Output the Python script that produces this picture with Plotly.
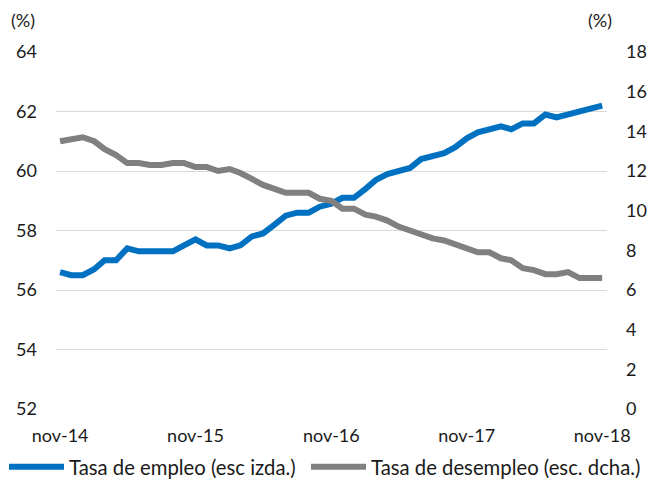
import plotly.graph_objects as go
import pandas as pd

# Monthly data, nov-2014 .. nov-2018
months = pd.date_range("2014-11-01", "2018-11-01", freq="MS")

tasa_empleo = [
    56.6, 56.5, 56.5, 56.7, 57.0, 57.0, 57.4, 57.3, 57.3, 57.3, 57.3, 57.5,
    57.7, 57.5, 57.5, 57.4, 57.5, 57.8, 57.9, 58.2, 58.5, 58.6, 58.6, 58.8,
    58.9, 59.1, 59.1, 59.4, 59.7, 59.9, 60.0, 60.1, 60.4, 60.5, 60.6, 60.8,
    61.1, 61.3, 61.4, 61.5, 61.4, 61.6, 61.6, 61.9, 61.8, 61.9, 62.0, 62.1,
    62.2,
]
tasa_desempleo = [
    13.5, 13.6, 13.7, 13.5, 13.1, 12.8, 12.4, 12.4, 12.3, 12.3, 12.4, 12.4,
    12.2, 12.2, 12.0, 12.1, 11.9, 11.6, 11.3, 11.1, 10.9, 10.9, 10.9, 10.6,
    10.5, 10.1, 10.1, 9.8, 9.7, 9.5, 9.2, 9.0, 8.8, 8.6, 8.5, 8.3,
    8.1, 7.9, 7.9, 7.6, 7.5, 7.1, 7.0, 6.8, 6.8, 6.9, 6.6, 6.6,
    6.6,
]
tick_dates = ["2014-11-01", "2015-11-01", "2016-11-01", "2017-11-01", "2018-11-01"]
tick_labels = ["nov-14", "nov-15", "nov-16", "nov-17", "nov-18"]

FONT = "Lato"
TXT = "#1a1a1a"
BLUE = "#0070C0"
GREY = "#808080"

fig = go.Figure()
fig.add_trace(go.Scatter(
    x=months, y=tasa_empleo, name="Tasa de empleo (esc izda.)",
    mode="lines", line=dict(color=BLUE, width=6), yaxis="y", legend="legend",
))
fig.add_trace(go.Scatter(
    x=months, y=tasa_desempleo, name="Tasa de desempleo (esc. dcha.)",
    mode="lines", line=dict(color=GREY, width=6), yaxis="y2", legend="legend2",
))

legend_common = dict(
    orientation="h", xanchor="left", y=-0.1625, yanchor="middle",
    font=dict(family=FONT, size=20.3, color=TXT),
    itemwidth=55, bgcolor="rgba(0,0,0,0)",
)

fig.update_layout(
    width=654, height=481,
    margin=dict(l=48, r=55, t=44, b=80, autoexpand=False),
    paper_bgcolor="white", plot_bgcolor="white",
    font=dict(family=FONT, size=18, color=TXT),
    showlegend=True,
    legend=dict(x=-0.0944, **legend_common),
    legend2=dict(x=0.4537, **legend_common),
    xaxis=dict(
        type="date", range=["2014-10-21", "2018-11-14"],
        tickvals=tick_dates, ticktext=tick_labels,
        showgrid=False, zeroline=False, showline=False, ticks="",
        ticklabelstandoff=14,
    ),
    yaxis=dict(
        range=[52, 64], dtick=2, tick0=52,
        showgrid=True, gridcolor="#D9D9D9", gridwidth=1.3,
        zeroline=False, showline=False, ticks="", ticklabelstandoff=18,
    ),
    yaxis2=dict(
        range=[0, 18], dtick=2, tick0=0, overlaying="y", side="right",
        showgrid=False, zeroline=False, showline=False, ticks="",
        ticklabelstandoff=18,
    ),
    annotations=[
        dict(text="(%)", xref="paper", yref="paper", x=-0.06, y=1.09,
             xanchor="center", yanchor="middle", showarrow=False,
             font=dict(family=FONT, size=18, color=TXT)),
        dict(text="(%)", xref="paper", yref="paper", x=0.987, y=1.09,
             xanchor="center", yanchor="middle", showarrow=False,
             font=dict(family=FONT, size=18, color=TXT)),
    ],
)

fig.write_html("out.html")
